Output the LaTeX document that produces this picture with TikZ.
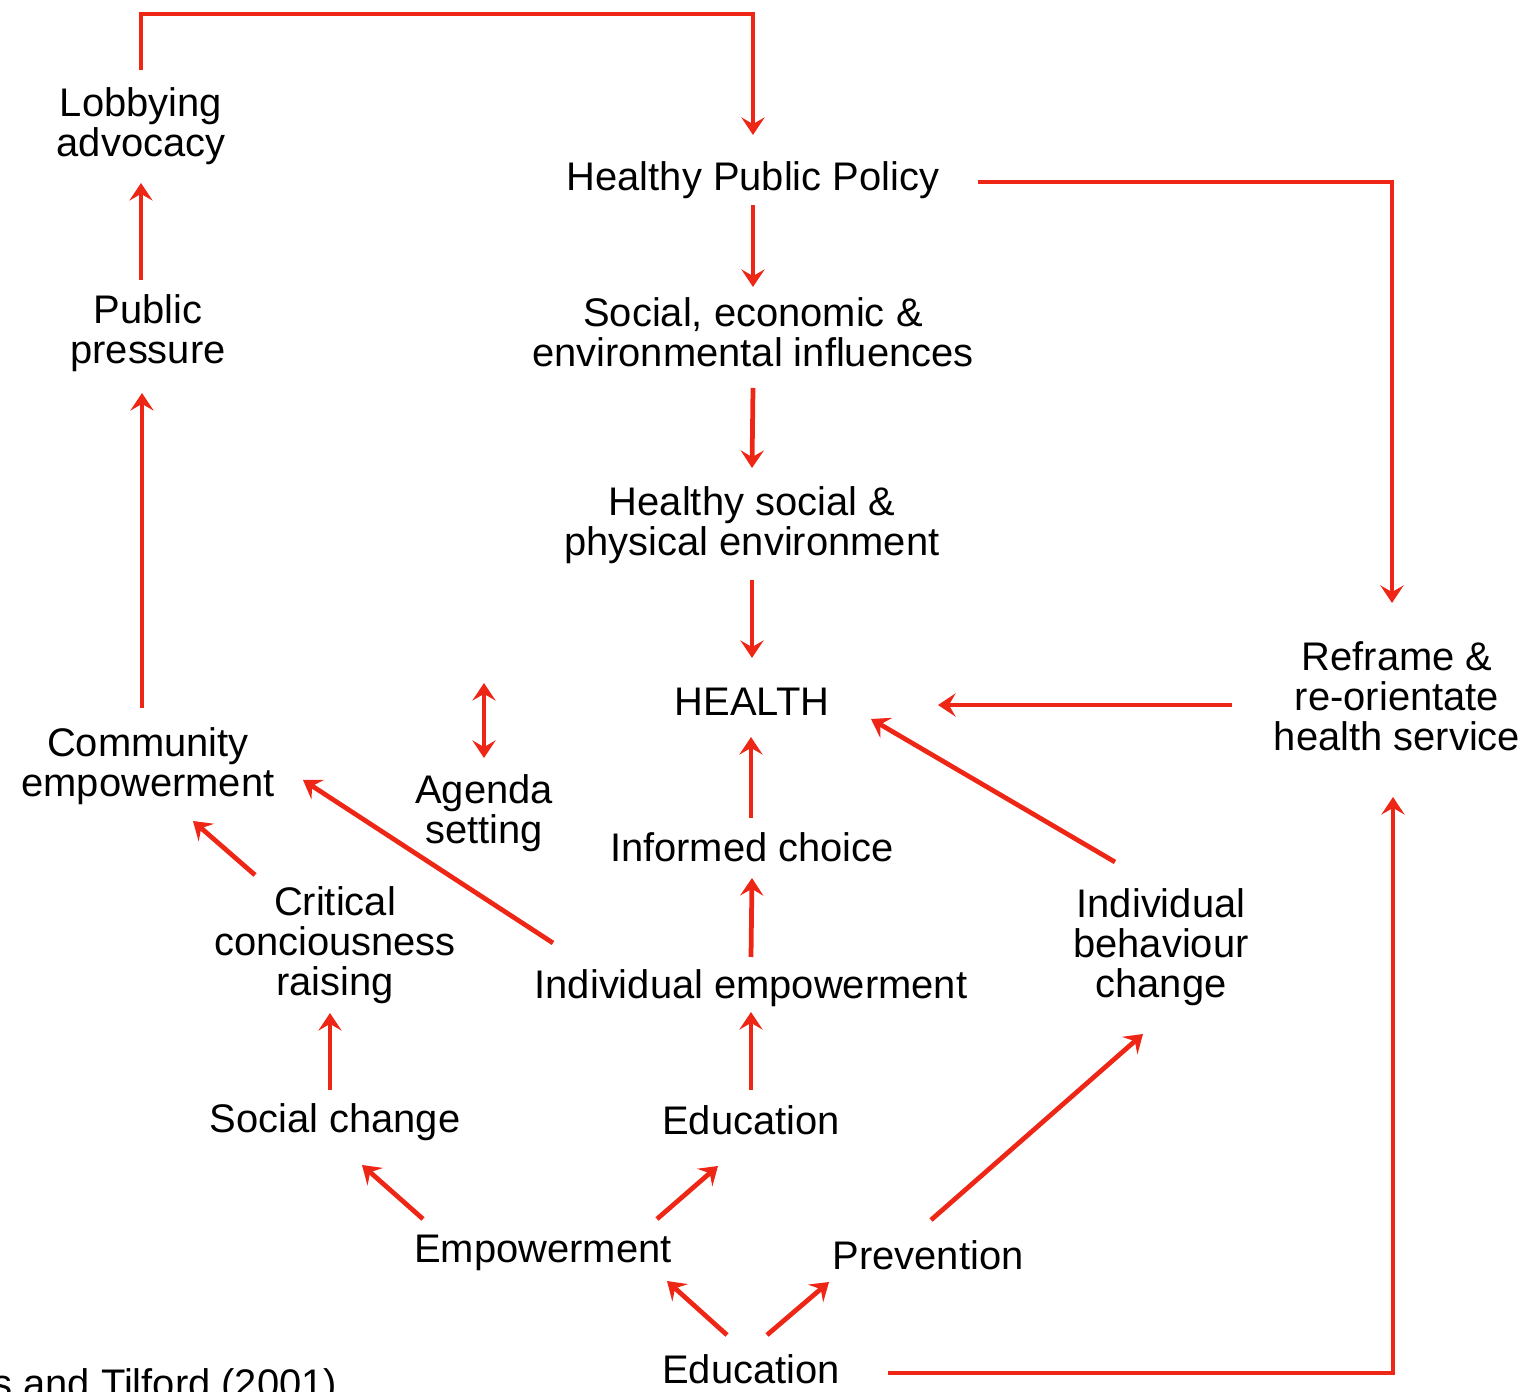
\documentclass[tikz,border=0pt]{standalone}
\usepackage{fontspec}
\setmainfont{Liberation Sans}
\usetikzlibrary{arrows.meta}
\definecolor{flow}{RGB}{238,38,22}
\begin{document}
\begin{tikzpicture}[x=0.01cm,y=-0.01cm,
  lbl/.style={inner sep=0pt, outer sep=0pt, align=center,
              font=\fontsize{11.35}{11.4}\selectfont},
  tip/.tip={Stealth[length=5pt,width=6.6pt,inset=1.9pt]},
  arr/.style={draw=flow, line width=1.35pt, -tip},
  dblarr/.style={arr, tip-tip},
  elbow/.style={arr, line join=miter}
]
\useasboundingbox (0,0) rectangle (1539,1392);
\clip (0,0) rectangle (1539,1392);

% text nodes
\node[lbl] (lob)    at (141,126)  {Lobbying\\advocacy};
\node[lbl] (pub)    at (148,333)  {Public\\pressure};
\node[lbl] (hpp)    at (753,180)  {Healthy Public Policy};
\node[lbl] (soc)    at (753,332)  {Social, economic \&\\environmental influences};
\node[lbl] (hse)    at (752,525)  {Healthy social \&\\physical environment};
\node[lbl] (health) at (752,702)  {HEALTH};
\node[lbl] (ref)    at (1397,696) {Reframe \&\\re-orientate\\health service};
\node[lbl] (comm)   at (148,766)  {Community\\empowerment};
\node[lbl] (agenda) at (484,813)  {Agenda\\setting};
\node[lbl] (inf)    at (752,847)  {Informed choice};
\node[lbl] (crit)   at (335,945)  {Critical\\conciousness\\raising};
\node[lbl] (indemp) at (751,988)  {Individual empowerment};
\node[lbl] (ibc)    at (1161,947) {Individual\\behaviour\\change};
\node[lbl] (socch)  at (335,1122) {Social change};
\node[lbl] (edu1)   at (751,1120) {Education};
\node[lbl] (emp)    at (543,1253) {Empowerment};
\node[lbl] (prev)   at (928,1255) {Prevention};
\node[lbl] (edu2)   at (751,1369) {Education};
\node[lbl, anchor=base east] (cite) at (337,1397) {s and Tilford (2001)};

% policy loop along the top and the service loop on the right
\draw[elbow] ([shift={(0,-56)}]lob.center) |- ([shift={(0,-166)}]hpp.center)
             -- ([shift={(0,-45)}]hpp.center);
\draw[elbow] ([shift={(225,2)}]hpp.center) -| ([shift={(-5,-93)}]ref.center);
\draw[elbow] ([shift={(137,4)}]edu2.center) -| ([shift={(-4,101)}]ref.center);

% central column
\draw[arr] ([shift={(0,25)}]hpp.center) -- ([shift={(0,-45)}]soc.center);
\draw[arr] ([shift={(0,56)}]soc.center) -- ([shift={(0,-57)}]hse.center);
\draw[arr] ([shift={(0,55)}]hse.center) -- ([shift={(0,-44)}]health.center);
\draw[arr] ([shift={(-1,-29)}]inf.center) -- ([shift={(-1,35)}]health.center);
\draw[arr] ([shift={(0,-31)}]indemp.center) -- ([shift={(0,31)}]inf.center);
\draw[arr] ([shift={(0,-30)}]edu1.center) -- ([shift={(0,24)}]indemp.center);

% right side
\draw[arr] ([shift={(-165,9)}]ref.center) -- ([shift={(186,3)}]health.center);
\draw[arr] ([shift={(-46,-85)}]ibc.center) -- ([shift={(119,17)}]health.center);
\draw[arr] ([shift={(3,-35)}]prev.center) -- ([shift={(-18,87)}]ibc.center);

% left column
\draw[arr] ([shift={(-7,-53)}]pub.center) -- ([shift={(0,57)}]lob.center);
\draw[arr] ([shift={(-6,-58)}]comm.center) -- ([shift={(-6,60)}]pub.center);
\draw[dblarr] ([shift={(0,-130)}]agenda.center) -- ([shift={(0,-55)}]agenda.center);
\draw[arr] ([shift={(-198,-45)}]indemp.center) -- ([shift={(155,14)}]comm.center);
\draw[arr] ([shift={(-80,-70)}]crit.center) -- ([shift={(45,55)}]comm.center);
\draw[arr] ([shift={(-5,-32)}]socch.center) -- ([shift={(-5,68)}]crit.center);

% bottom fan
\draw[arr] ([shift={(-120,-34)}]emp.center) -- ([shift={(27,43)}]socch.center);
\draw[arr] ([shift={(114,-34)}]emp.center) -- ([shift={(-33,46)}]edu1.center);
\draw[arr] ([shift={(-24,-34)}]edu2.center) -- ([shift={(124,28)}]emp.center);
\draw[arr] ([shift={(16,-34)}]edu2.center) -- ([shift={(-99,27)}]prev.center);
\end{tikzpicture}
\end{document}
